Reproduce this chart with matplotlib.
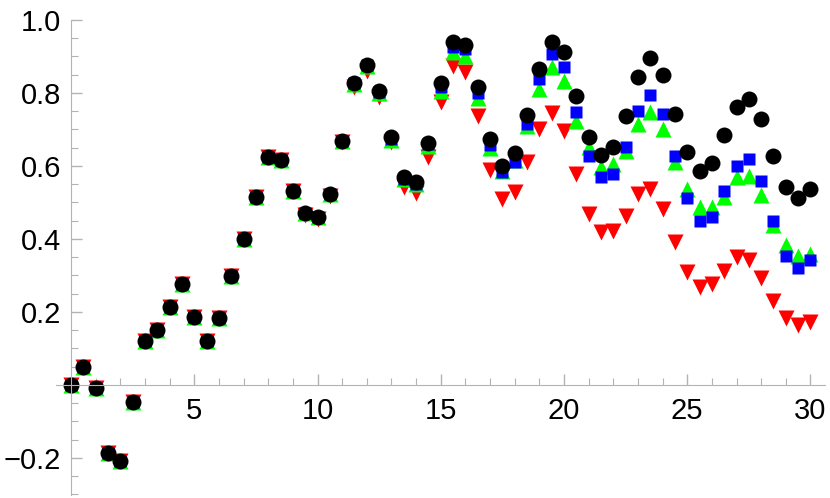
import numpy as np
import matplotlib.pyplot as plt
from matplotlib.ticker import MultipleLocator, FixedLocator

plt.rcParams['font.family'] = ['Liberation Sans', 'DejaVu Sans']

x = np.arange(0, 30.5, 0.5)

black = [0.000, 0.048, -0.008, -0.186, -0.209, -0.046, 0.120, 0.151, 0.212, 0.277,
         0.187, 0.120, 0.183, 0.299, 0.401, 0.514, 0.624, 0.616, 0.530, 0.471,
         0.461, 0.524, 0.669, 0.828, 0.878, 0.805, 0.678, 0.570, 0.556, 0.663,
         0.828, 0.941, 0.932, 0.817, 0.674, 0.601, 0.635, 0.740, 0.867, 0.941,
         0.911, 0.793, 0.680, 0.630, 0.651, 0.736, 0.845, 0.896, 0.849, 0.742,
         0.637, 0.587, 0.608, 0.686, 0.762, 0.784, 0.729, 0.628, 0.541, 0.512,
         0.537]

blue = [0.000, 0.048, -0.008, -0.186, -0.209, -0.046, 0.120, 0.151, 0.212, 0.277,
        0.187, 0.120, 0.183, 0.299, 0.401, 0.514, 0.624, 0.616, 0.530, 0.471,
        0.461, 0.524, 0.667, 0.826, 0.876, 0.802, 0.674, 0.565, 0.551, 0.660,
        0.815, 0.925, 0.920, 0.800, 0.658, 0.582, 0.610, 0.715, 0.838, 0.907,
        0.870, 0.747, 0.628, 0.569, 0.578, 0.653, 0.751, 0.795, 0.741, 0.628,
        0.512, 0.448, 0.459, 0.530, 0.601, 0.619, 0.560, 0.450, 0.354, 0.320,
        0.342]

green = [0.000, 0.048, -0.008, -0.186, -0.209, -0.046, 0.120, 0.151, 0.212, 0.277,
         0.187, 0.120, 0.183, 0.299, 0.401, 0.514, 0.624, 0.616, 0.530, 0.471,
         0.461, 0.524, 0.667, 0.825, 0.875, 0.800, 0.672, 0.565, 0.551, 0.655,
         0.806, 0.911, 0.902, 0.785, 0.650, 0.585, 0.615, 0.710, 0.811, 0.870,
         0.834, 0.724, 0.651, 0.596, 0.605, 0.642, 0.715, 0.747, 0.701, 0.610,
         0.537, 0.487, 0.487, 0.514, 0.569, 0.573, 0.519, 0.439, 0.384, 0.354,
         0.359]

red = [0.000, 0.048, -0.008, -0.186, -0.209, -0.046, 0.120, 0.151, 0.212, 0.277,
       0.187, 0.120, 0.183, 0.299, 0.401, 0.514, 0.624, 0.616, 0.530, 0.465,
       0.455, 0.518, 0.665, 0.815, 0.861, 0.790, 0.665, 0.543, 0.527, 0.624,
       0.776, 0.875, 0.857, 0.738, 0.590, 0.508, 0.528, 0.610, 0.701, 0.745,
       0.697, 0.578, 0.468, 0.418, 0.421, 0.464, 0.523, 0.537, 0.482, 0.391,
       0.309, 0.267, 0.275, 0.313, 0.350, 0.342, 0.293, 0.229, 0.183, 0.165,
       0.172]

fig = plt.figure(figsize=(8.3, 4.98), dpi=100)
ax = fig.add_axes([56 / 830, 3 / 498, 769 / 830, 475 / 498])

ax.plot(x, red, 'v', color='#ff0000', ms=11, mec='none', clip_on=False)
ax.plot(x, green, '^', color='#00ff00', ms=11, mec='none', clip_on=False)
ax.plot(x, blue, 's', color='#0000ff', ms=9, mec='none', clip_on=False)
ax.plot(x, black, 'o', color='black', ms=11.5, mec='none', clip_on=False)

ax.set_xlim(-0.61, 30.59)
ax.set_ylim(-0.302, 1.0)

axis_grey = '#b3b3b3'
for s in ['top', 'right']:
    ax.spines[s].set_visible(False)
ax.spines['left'].set_position(('data', 0))
ax.spines['bottom'].set_position(('data', 0))
ax.spines['left'].set_color(axis_grey)
ax.spines['bottom'].set_color(axis_grey)

ax.xaxis.set_major_locator(FixedLocator([5, 10, 15, 20, 25, 30]))
ax.xaxis.set_minor_locator(MultipleLocator(1))
ax.yaxis.set_major_locator(FixedLocator([-0.2, 0.2, 0.4, 0.6, 0.8, 1.0]))
ax.yaxis.set_minor_locator(MultipleLocator(0.05))
ax.set_xticklabels(['5', '10', '15', '20', '25', '30'])
ax.set_yticklabels(['\u22120.2', '0.2', '0.4', '0.6', '0.8', '1.0'])

ax.tick_params(axis='x', which='both', direction='in', color=axis_grey,
               labelsize=21, pad=8.5)
ax.tick_params(axis='y', which='both', direction='in', color=axis_grey,
               labelsize=21, pad=7)
ax.tick_params(which='major', length=8, width=1)
ax.tick_params(which='minor', length=5, width=0.8)

fig.savefig('out.png', dpi=100)
